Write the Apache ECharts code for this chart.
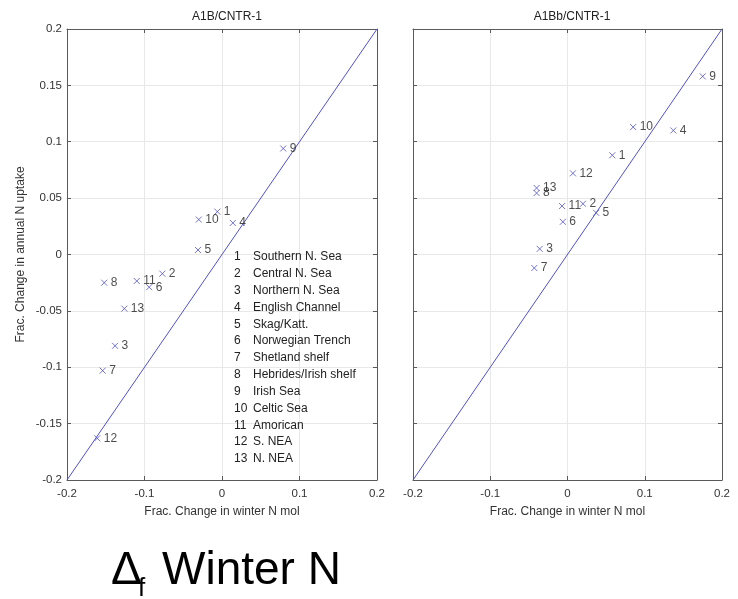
<!DOCTYPE html>
<html>
<head>
<meta charset="utf-8">
<script src="https://cdn.jsdelivr.net/npm/echarts@6/dist/echarts.min.js"></script>
<style>
html,body{margin:0;padding:0;background:#fff;}
#chart{width:738px;height:599px;}
</style>
</head>
<body>
<div id="chart"></div>
<script>
// ---- data ----
var regionIds = [1,2,3,4,5,6,7,8,9,10,11,12,13];
var regionNames = ['Southern N. Sea','Central N. Sea','Northern N. Sea','English Channel','Skag/Katt.',
  'Norwegian Trench','Shetland shelf','Hebrides/Irish shelf','Irish Sea','Celtic Sea','Amorican','S. NEA','N. NEA'];
// left panel A1B/CNTR-1
var leftX = [-0.006,-0.077,-0.138,0.014,-0.031,-0.094,-0.154,-0.152,0.079,-0.030,-0.110,-0.161,-0.126];
var leftY = [0.038,-0.017,-0.081,0.028,0.004,-0.029,-0.103,-0.025,0.094,0.031,-0.0235,-0.163,-0.048];
// right panel A1Bb/CNTR-1
var rightX = [0.058,0.020,-0.036,0.137,0.037,-0.006,-0.043,-0.040,0.175,0.085,-0.007,0.007,-0.040];
var rightY = [0.088,0.045,0.005,0.110,0.037,0.029,-0.012,0.0545,0.158,0.113,0.043,0.072,0.059];
var diagX = [-0.2,0.2];
var xTicks = [-0.2,-0.1,0,0.1,0.2];
var yTicks = [-0.2,-0.15,-0.1,-0.05,0,0.05,0.1,0.15,0.2];
var titles = ['A1B/CNTR-1','A1Bb/CNTR-1'];
var xName = 'Frac. Change in winter N mol';
var yName = 'Frac. Change in annual N uptake';

// ---- build ----
var FONT = 'Liberation Sans, Arial, sans-serif';
var AX = '#5a5a5a';
function pts(xs, ys){ return xs.map(function(x,i){ return [x, ys[i], regionIds[i]]; }); }
function diag(){ return diagX.map(function(x){ return [x,x]; }); }
function fmt(v){ var r = Math.round(v*100)/100; return String(r); }

function xAx(g, pos, lab){
  return {
    type:'value', gridIndex:g, position:pos,
    min:xTicks[0], max:xTicks[xTicks.length-1], interval:0.1,
    axisLine:{show:true,onZero:false,lineStyle:{color:AX,width:1}},
    axisTick:{show:true,inside:true,length:4,lineStyle:{color:AX}},
    axisLabel:{show:lab,formatter:fmt,fontFamily:FONT,fontSize:11.5,color:'#333',margin:8},
    splitLine:{show:pos==='bottom',lineStyle:{color:'#e8e8e8',width:1}},
    name: lab ? xName : '', nameLocation:'middle', nameGap:26,
    nameTextStyle:{fontFamily:FONT,fontSize:12,color:'#333'}
  };
}
function yAx(g, pos, lab, showName){
  return {
    type:'value', gridIndex:g, position:pos,
    min:yTicks[0], max:yTicks[yTicks.length-1], interval:0.05,
    axisLine:{show:true,onZero:false,lineStyle:{color:AX,width:1}},
    axisTick:{show:true,inside:true,length:4,lineStyle:{color:AX}},
    axisLabel:{show:lab,formatter:fmt,fontFamily:FONT,fontSize:11.5,color:'#333',margin:5},
    splitLine:{show:pos==='left',lineStyle:{color:'#e8e8e8',width:1}},
    name: showName ? yName : '', nameLocation:'middle', nameGap:40, nameRotate:90,
    nameTextStyle:{fontFamily:FONT,fontSize:12,color:'#333'}
  };
}
var MARK = 'path://M0,0L10,10M0,10L10,0';
function scat(xi, data){
  return {
    type:'scatter', xAxisIndex:xi, yAxisIndex:xi, data:data,
    symbol:MARK, symbolSize:6,
    itemStyle:{color:'none',borderColor:'#5050cc',borderWidth:1},
    label:{show:true,position:'right',distance:1,formatter:function(p){return p.data[2];},
      fontFamily:FONT,fontSize:12,color:'#222'},
    emphasis:{disabled:true}, z:5
  };
}
function line(xi){
  return {type:'line', xAxisIndex:xi, yAxisIndex:xi, data:diag(), showSymbol:false, symbol:'none',
    lineStyle:{color:'#5050d0',width:1}, emphasis:{disabled:true}, z:3};
}

var graphics = [];
regionIds.forEach(function(id,i){
  var y = 257 + i*16.83;
  graphics.push({type:'text', left:null, x:234, y:y, style:{text:String(id),fontFamily:FONT,fontSize:12,fill:'#222',verticalAlign:'middle',align:'left'}, z:10});
  graphics.push({type:'text', x:253, y:y, style:{text:regionNames[i],fontFamily:FONT,fontSize:12,fill:'#222',verticalAlign:'middle',align:'left'}, z:10});
});
graphics.push({type:'text', x:111, y:571, style:{text:'\u0394',fontFamily:FONT,fontSize:46,fill:'#000',verticalAlign:'middle',align:'left'}});
graphics.push({type:'text', x:138, y:589, style:{text:'f',fontFamily:FONT,fontSize:26,fill:'#000',verticalAlign:'middle',align:'left'}});
graphics.push({type:'text', x:162, y:571, style:{text:'Winter N',fontFamily:FONT,fontSize:46,fill:'#000',verticalAlign:'middle',align:'left'}});

var option = {
  animation:false,
  backgroundColor:'#fff',
  title:[
    {text:titles[0], left:222, top:6, textAlign:'center', textStyle:{fontFamily:FONT,fontSize:12,fontWeight:'normal',color:'#222'}},
    {text:titles[1], left:567, top:6, textAlign:'center', textStyle:{fontFamily:FONT,fontSize:12,fontWeight:'normal',color:'#222'}}
  ],
  grid:[
    {left:67, top:29, width:310, height:451},
    {left:413, top:29, width:309, height:451}
  ],
  xAxis:[ xAx(0,'bottom',true), xAx(1,'bottom',true), xAx(0,'top',false), xAx(1,'top',false) ],
  yAxis:[ yAx(0,'left',true,true), yAx(1,'left',false,false), yAx(0,'right',false,false), yAx(1,'right',false,false) ],
  series:[ line(0), scat(0, pts(leftX,leftY)), line(1), scat(1, pts(rightX,rightY)) ],
  graphic:graphics
};
var chart = echarts.init(document.getElementById('chart'), null, {renderer:'canvas'});
chart.setOption(option);
</script>
</body>
</html>
